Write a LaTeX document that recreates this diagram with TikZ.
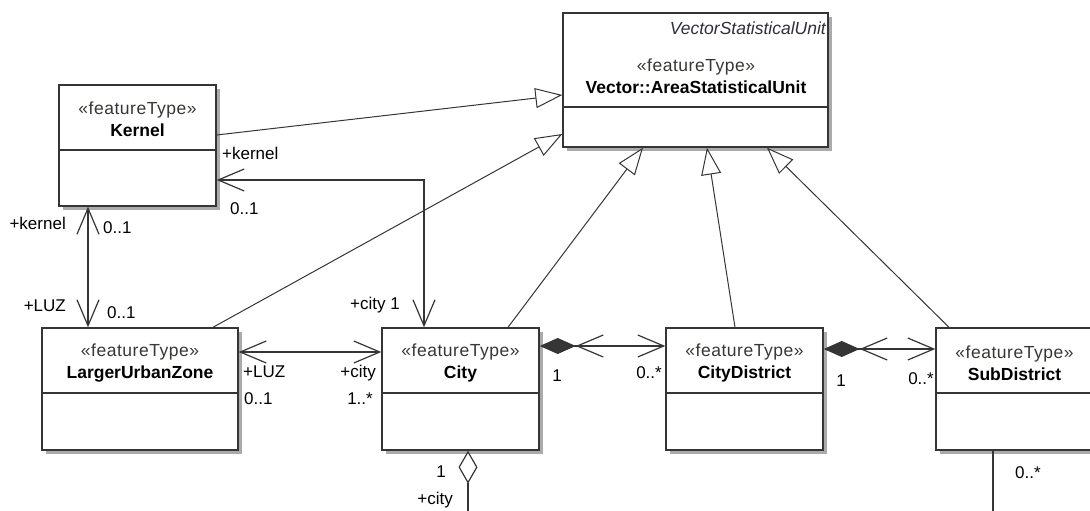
\documentclass[tikz,border=0pt]{standalone}
\usepackage{fontspec}
\setmainfont{Liberation Sans}
\newfontfamily\stereofont[LetterSpace=3]{Liberation Sans}
\usepackage{tikz}
\usetikzlibrary{arrows.meta,shadows,positioning}
\definecolor{umlline}{HTML}{353535}
\definecolor{umlshadow}{HTML}{AAAAAA}
\definecolor{stereo}{HTML}{3A3632}
\definecolor{vsutext}{HTML}{2E2E3C}
\tikzset{
    %Define style for class boxes
    classbox/.style={
           rectangle,
           draw=umlline, line width=1.4pt,
           fill=white,
           minimum width=157pt,
           minimum height=122pt,
           inner sep=0pt,
           drop shadow={shadow xshift=4pt, shadow yshift=-4pt, fill=umlshadow, opacity=1}},
    classtext/.style={
           align=center,
           inner sep=0pt,
           font=\fontsize{17.5}{22}\selectfont},
    vsu/.style={
           inner sep=0pt,
           text=vsutext,
           font=\fontsize{17.5}{20}\selectfont\itshape},
    role/.style={
           inner sep=0pt,
           text height=12.2pt,
           text depth=0pt,
           font=\fontsize{17}{20}\selectfont},
    divider/.style={draw=umlline, line width=1.2pt},
    % Define connector styles
    gen/.style={
           draw=umlline, line width=1pt,
           -{Triangle[open,length=27pt,width=20pt,fill=white]}},
    assoc/.style={
           draw=umlline, line width=1.2pt, <->},
    comp/.style={
           draw=umlline, line width=1.2pt,
           {Diamond[length=36pt,width=16pt]Straight Barb[length=26pt,width=22pt]}-{Straight Barb[length=26pt,width=22pt]}},
    aggr/.style={
           draw=umlline, line width=1.2pt,
           {Diamond[open,length=33pt,width=19pt,fill=white]}-},
    plain/.style={draw=umlline, line width=1.2pt}
}
\begin{document}
\begin{tikzpicture}[x=1pt,y=-1pt,>={Straight Barb[length=26pt,width=22pt]}]
\useasboundingbox (0,0) rectangle (1090,511);
 %classes
\node[classbox, minimum height=121pt](1) at (137.5,145.5){};
\node[classbox, minimum width=265pt, minimum height=134pt](2) at (695.5,80){};
\node[classbox, minimum width=196pt](3) at (140,389){};
\node[classbox](4) at (460.5,389){};
\node[classbox](5) at (744.5,389){};
\node[classbox](6) at (1014.5,389){};
 %compartments
\draw[divider] (1.west |- 0,150) -- (1.east |- 0,150);
\draw[divider] (2.west |- 0,107) -- (2.east |- 0,107);
\foreach \n in {3,4,5,6}
    \draw[divider] (\n.west |- 0,393) -- (\n.east |- 0,393);
 %names
\node[vsu, anchor=east](t0) at (826,28){VectorStatisticalUnit};
\node[classtext](t1) at (137.5,119.5){{\color{stereo}\stereofont «featureType»}\\\textbf{Kernel}};
\node[classtext](t2) at (696,76){{\color{stereo}\stereofont «featureType»}\\\textbf{Vector::AreaStatisticalUnit}};
\node[classtext](t3) at (140,363){{\color{stereo}\stereofont «featureType»}\\\textbf{LargerUrbanZone}};
\node[classtext](t4) at (460.5,363){{\color{stereo}\stereofont «featureType»}\\\textbf{City}};
\node[classtext](t5) at (744.5,363){{\color{stereo}\stereofont «featureType»}\\\textbf{CityDistrict}};
\node[classtext](t6) at (1014.5,363){{\color{stereo}\stereofont «featureType»}\\\textbf{SubDistrict}};
 %generalizations
\draw[gen] (1.east |- 0,135) -- (2.west |- 0,95);
\draw[gen] (3.north -| 213,0) -- (2.west |- 0,134);
\draw[gen] (4.north -| 508,0) -- (2.south -| 643,0);
\draw[gen] (5.north -| 735,0) -- (2.south -| 707,0);
\draw[gen] (6.north -| 949,0) -- (2.south -| 767,0);
 %associations
\draw[assoc] (1.south -| 88,0) -- (3.north -| 88,0);
\draw[assoc] (1.east |- 0,180) -| (4.north -| 424,0);
\draw[assoc] (3.east |- 0,352) -- (4.west |- 0,352);
\draw[comp] (4.east |- 0,346) -- (5.west |- 0,346);
\draw[comp] (5.east |- 0,349) -- (6.west |- 0,349);
\coordinate (c1) at (468,515);
\coordinate (c2) at (993,515);
\draw[aggr] (4.south -| c1) -- (c1);
\draw[plain] (6.south -| c2) -- (c2);
 %roles and multiplicities
\node[role, anchor=west](r1) at (222,153){+kernel};
\node[role, anchor=west](r2) at (230,208){0..1};
\node[role, anchor=east](r3) at (400,303){+city 1};
\node[role, anchor=east](r4) at (66,223){+kernel};
\node[role, anchor=west](r5) at (103,227){0..1};
\node[role, anchor=east](r6) at (66,305){+LUZ};
\node[role, anchor=west](r7) at (107,312){0..1};
\node[role, anchor=west](r8) at (243,371){+LUZ};
\node[role, anchor=west](r9) at (244,398){0..1};
\node[role, anchor=east](r10) at (376,371){+city};
\node[role, anchor=east](r11) at (373,398){1..*};
\node[role](r12) at (557,375){1};
\node[role, anchor=east](r13) at (662,372){0..*};
\node[role](r14) at (841,380){1};
\node[role, anchor=east](r15) at (934,378){0..*};
\node[role](r16) at (441,471){1};
\node[role, anchor=east](r17) at (453,498){+city};
\node[role, anchor=west](r18) at (1015,472){0..*};
\end{tikzpicture}
\end{document}
